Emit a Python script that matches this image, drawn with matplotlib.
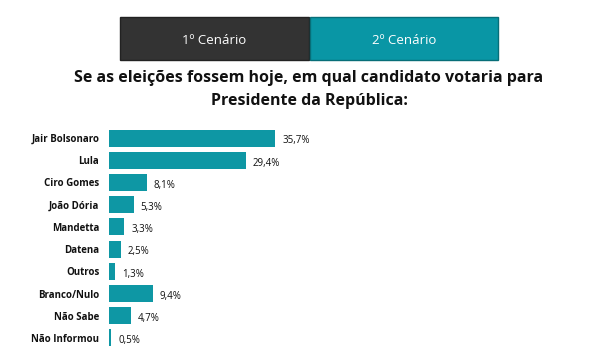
import matplotlib.pyplot as plt
from matplotlib.patches import Rectangle

plt.rcParams['font.family'] = ['Open Sans', 'DejaVu Sans']

candidatos = ["Jair Bolsonaro", "Lula", "Ciro Gomes", "João Dória", "Mandetta",
              "Datena", "Outros", "Branco/Nulo", "Não Sabe", "Não Informou"]
votos = [35.7, 29.4, 8.1, 5.3, 3.3, 2.5, 1.3, 9.4, 4.7, 0.5]
rotulos = ["35,7%", "29,4%", "8,1%", "5,3%", "3,3%", "2,5%", "1,3%", "9,4%", "4,7%", "0,5%"]
botoes = ["1º Cenário", "2º Cenário"]

teal = "#0E97A4"
W, H = 600, 351

fig = plt.figure(figsize=(6, 3.51), dpi=100)

# buttons on top
fig.add_artist(Rectangle((120 / W, 1 - 60 / H), 189 / W, 43 / H,
                         transform=fig.transFigure, facecolor="#333333", edgecolor="#222222", lw=1))
fig.add_artist(Rectangle((310 / W, 1 - 60 / H), 188 / W, 43 / H,
                         transform=fig.transFigure, facecolor="#0996A5", edgecolor="#076E78", lw=1))
fig.text(214.5 / W, 1 - 40 / H, botoes[0], color="white", fontsize=9.5, ha="center", va="center")
fig.text(404 / W, 1 - 40 / H, botoes[1], color="white", fontsize=9.5, ha="center", va="center")

fig.text(309 / W, 1 - 78 / H, "Se as eleições fossem hoje, em qual candidato votaria para",
         fontsize=11.5, fontweight="bold", ha="center", va="center", color="#111111")
fig.text(309 / W, 1 - 101 / H, "Presidente da República:",
         fontsize=11.5, fontweight="bold", ha="center", va="center", color="#111111")

ax = fig.add_axes([109 / W, 2 / H, 466 / W, 222 / H])
y = list(range(len(candidatos)))
ax.barh(y, votos, height=0.77, color=teal)
ax.set_xlim(0, 100)
ax.set_ylim(len(candidatos) - 0.5, -0.5)
ax.set_yticks(y)
ax.set_yticklabels(candidatos, fontsize=7, fontweight="bold", color="#111111")
ax.tick_params(axis="y", length=0, pad=7)
ax.set_xticks([])
for s in ax.spines.values():
    s.set_visible(False)

for yi, v, lab in zip(y, votos, rotulos):
    ax.annotate(lab, (v, yi), xytext=(5, -2), textcoords="offset points",
                fontsize=7, va="center", ha="left", color="#111111")

fig.savefig("out.png", dpi=100)
